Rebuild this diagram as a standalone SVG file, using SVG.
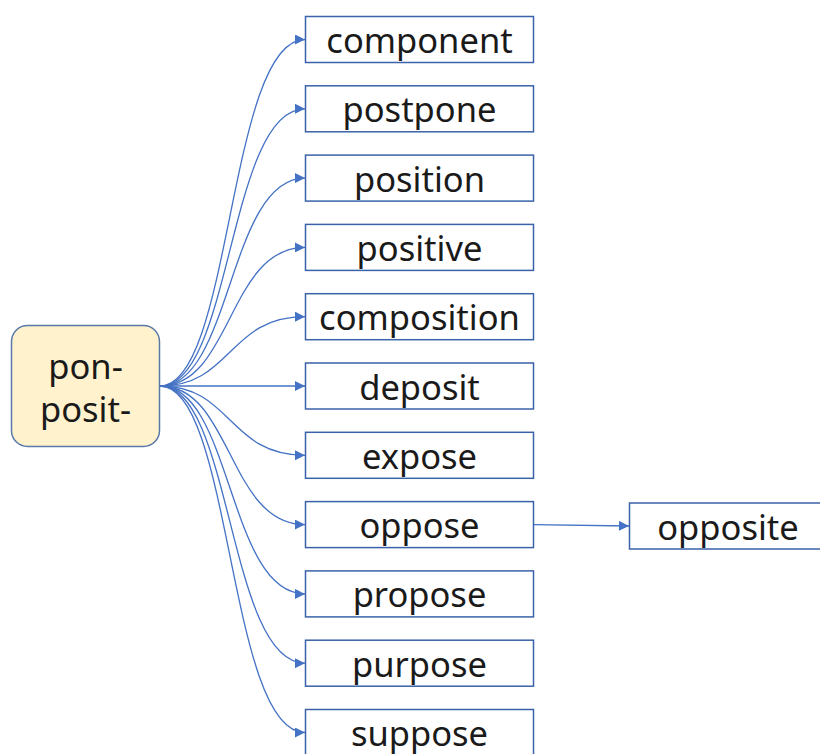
<svg xmlns="http://www.w3.org/2000/svg" width="820" height="754" viewBox="0 0 820 754">
<style>
.box{fill:#fff;stroke:#3a62a8;stroke-width:1.5}
.root{fill:#fff2cc;stroke:#5a79a8;stroke-width:1.5}
.t{font-family:"Noto Sans","Liberation Sans",sans-serif;font-size:34.5px;fill:#1a1a1a;text-anchor:middle}
.c{fill:none;stroke:#4472c4;stroke-width:1.3}
</style>
<defs>
<marker id="a" viewBox="0 0 10 10" refX="10" refY="5" markerWidth="11" markerHeight="10" markerUnits="userSpaceOnUse" orient="auto">
<path d="M0,0 L10,5 L0,10 z" fill="#4472c4"/>
</marker>
</defs>
<rect width="820" height="754" fill="#fff"/>
<g id="connectors">
<path class="c" marker-end="url(#a)" d="M160,386 C232,386 228,39.5 305,39.5"/>
<path class="c" marker-end="url(#a)" d="M160,386 C232,386 228,108.8 305,108.8"/>
<path class="c" marker-end="url(#a)" d="M160,386 C232,386 228,178.1 305,178.1"/>
<path class="c" marker-end="url(#a)" d="M160,386 C232,386 228,247.4 305,247.4"/>
<path class="c" marker-end="url(#a)" d="M160,386 C232,386 228,316.7 305,316.7"/>
<path class="c" marker-end="url(#a)" d="M160,386 L305,386"/>
<path class="c" marker-end="url(#a)" d="M160,386 C232,386 228,455.3 305,455.3"/>
<path class="c" marker-end="url(#a)" d="M160,386 C232,386 228,524.6 305,524.6"/>
<path class="c" marker-end="url(#a)" d="M160,386 C232,386 228,593.9 305,593.9"/>
<path class="c" marker-end="url(#a)" d="M160,386 C232,386 228,663.2 305,663.2"/>
<path class="c" marker-end="url(#a)" d="M160,386 C232,386 228,732.5 305,732.5"/>
<path class="c" marker-end="url(#a)" d="M533,524.6 L629,526"/>
</g>
<g id="root">
<rect class="root" x="11.5" y="325.5" width="148" height="121" rx="16"/>
<text class="t" x="85.5" y="379">pon-</text>
<text class="t" x="85.5" y="422">posit-</text>
</g>
<g id="n1"><rect class="box" x="305.5" y="16.5" width="228" height="46"/><text class="t" x="419.5" y="53">component</text></g>
<g id="n2"><rect class="box" x="305.5" y="85.8" width="228" height="46"/><text class="t" x="419.5" y="122.3">postpone</text></g>
<g id="n3"><rect class="box" x="305.5" y="155.1" width="228" height="46"/><text class="t" x="419.5" y="191.6">position</text></g>
<g id="n4"><rect class="box" x="305.5" y="224.4" width="228" height="46"/><text class="t" x="419.5" y="260.9">positive</text></g>
<g id="n5"><rect class="box" x="305.5" y="293.7" width="228" height="46"/><text class="t" x="419.5" y="330.2">composition</text></g>
<g id="n6"><rect class="box" x="305.5" y="363" width="228" height="46"/><text class="t" x="419.5" y="399.5">deposit</text></g>
<g id="n7"><rect class="box" x="305.5" y="432.3" width="228" height="46"/><text class="t" x="419.5" y="468.8">expose</text></g>
<g id="n8"><rect class="box" x="305.5" y="501.6" width="228" height="46"/><text class="t" x="419.5" y="538.1">oppose</text></g>
<g id="n9"><rect class="box" x="305.5" y="570.9" width="228" height="46"/><text class="t" x="419.5" y="607.4">propose</text></g>
<g id="n10"><rect class="box" x="305.5" y="640.2" width="228" height="46"/><text class="t" x="419.5" y="676.7">purpose</text></g>
<g id="n11"><rect class="box" x="305.5" y="709.5" width="228" height="46"/><text class="t" x="419.5" y="746">suppose</text></g>
<g id="n12"><rect class="box" x="629.5" y="503" width="200" height="46"/><text class="t" x="728" y="539.5">opposite</text></g>
</svg>
